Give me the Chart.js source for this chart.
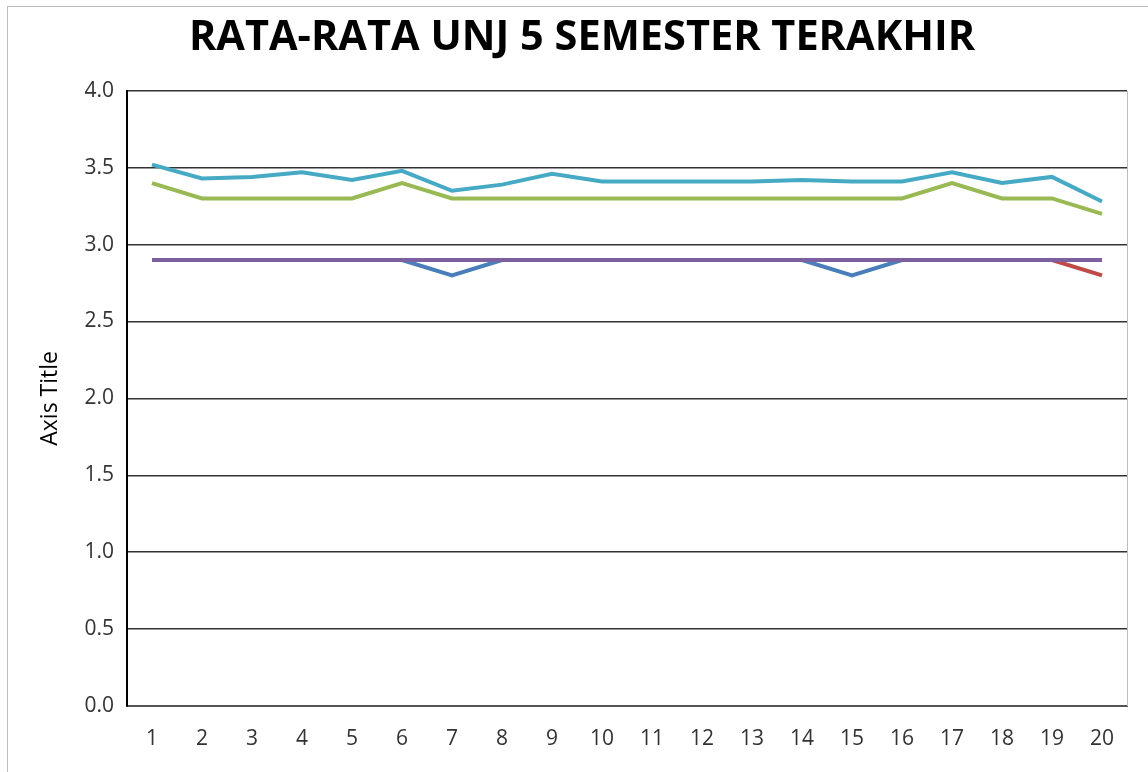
<!DOCTYPE html>
<html>
<head>
<meta charset="utf-8">
<script src="https://cdn.jsdelivr.net/npm/chart.js@4"></script>
<style>
  html, body { margin: 0; padding: 0; background: #fff; }
  #wrap { position: relative; width: 1148px; height: 772px; }
  #frame { position: absolute; left: 7px; top: 6px; width: 1160px; height: 800px; border: 1px solid #bdbdbd; }
  canvas { position: absolute; left: 0; top: 0; }
</style>
</head>
<body>
<div id="wrap">
  <div id="frame"></div>
  <canvas id="lineChart" width="1148" height="772"></canvas>
</div>
<script>
// Data
const categories = ["1","2","3","4","5","6","7","8","9","10","11","12","13","14","15","16","17","18","19","20"];
const yTicks = [0, 0.5, 1, 1.5, 2, 2.5, 3, 3.5, 4];

const series1 = [2.9, 2.9, 2.9, 2.9, 2.9, 2.9, 2.8, 2.9, 2.9, 2.9, 2.9, 2.9, 2.9, 2.9, 2.8, 2.9, 2.9, 2.9, 2.9, 2.9];
const series2 = [2.9, 2.9, 2.9, 2.9, 2.9, 2.9, 2.9, 2.9, 2.9, 2.9, 2.9, 2.9, 2.9, 2.9, 2.9, 2.9, 2.9, 2.9, 2.9, 2.8];
const series3 = [3.4, 3.3, 3.3, 3.3, 3.3, 3.4, 3.3, 3.3, 3.3, 3.3, 3.3, 3.3, 3.3, 3.3, 3.3, 3.3, 3.4, 3.3, 3.3, 3.2];
const series4 = [2.9, 2.9, 2.9, 2.9, 2.9, 2.9, 2.9, 2.9, 2.9, 2.9, 2.9, 2.9, 2.9, 2.9, 2.9, 2.9, 2.9, 2.9, 2.9, 2.9];
const series5 = [3.52, 3.43, 3.44, 3.47, 3.42, 3.48, 3.35, 3.39, 3.46, 3.41, 3.41, 3.41, 3.41, 3.42, 3.41, 3.41, 3.47, 3.40, 3.44, 3.28];

const FONT = "'Open Sans', 'DejaVu Sans', sans-serif";

function line(data, color, order) {
  return {
    data: data,
    borderColor: color,
    backgroundColor: color,
    borderWidth: 4,
    pointRadius: 0,
    tension: 0,
    order: order
  };
}

// right edge of the plot area (light grey)
const plotBorder = {
  id: "plotBorder",
  afterDraw(chart) {
    const { ctx, chartArea } = chart;
    ctx.save();
    ctx.strokeStyle = "#bdbdbd";
    ctx.lineWidth = 1;
    ctx.beginPath();
    ctx.moveTo(chartArea.right + 0.5, chartArea.top);
    ctx.lineTo(chartArea.right + 0.5, chartArea.bottom);
    ctx.stroke();
    ctx.restore();
  }
};

new Chart(document.getElementById("lineChart"), {
  type: "line",
  data: {
    labels: categories,
    datasets: [
      line(series1, "#4a7ebb", 5),
      line(series2, "#be4b48", 4),
      line(series3, "#98b954", 3),
      line(series4, "#7d60a0", 1),
      line(series5, "#46aac5", 2)
    ]
  },
  options: {
    responsive: false,
    animation: false,
    layout: { padding: { left: 37, right: 21, top: 0, bottom: 0 } },
    plugins: {
      legend: { display: false },
      tooltip: { enabled: false },
      title: {
        display: true,
        text: "RATA-RATA UNJ 5 SEMESTER TERAKHIR",
        color: "#000",
        font: { family: FONT, size: 41.5, weight: "bold" },
        padding: { top: 13, bottom: 28 }
      }
    },
    scales: {
      x: {
        offset: true,
        grid: { display: false, drawTicks: false },
        border: { display: true, color: "#555", width: 2 },
        ticks: {
          color: "#333",
          font: { family: FONT, size: 21 },
          padding: 20,
          maxRotation: 0,
          autoSkip: false
        },
        afterFit(scale) { scale.height = 66; }
      },
      y: {
        min: 0,
        max: 4,
        afterBuildTicks(scale) { scale.ticks = yTicks.map(v => ({ value: v })); },
        grid: { color: "#333", lineWidth: 1.5, drawTicks: false },
        border: { display: true, color: "#000", width: 2 },
        ticks: {
          color: "#333",
          font: { family: FONT, size: 21 },
          padding: 13,
          callback: v => Number(v).toFixed(1)
        },
        title: {
          display: true,
          text: "Axis Title",
          color: "#000",
          font: { family: FONT, size: 23 },
          padding: 0
        },
        afterFit(scale) { scale.width = 127 - 37; }
      }
    }
  },
  plugins: [plotBorder]
});
</script>
</body>
</html>
